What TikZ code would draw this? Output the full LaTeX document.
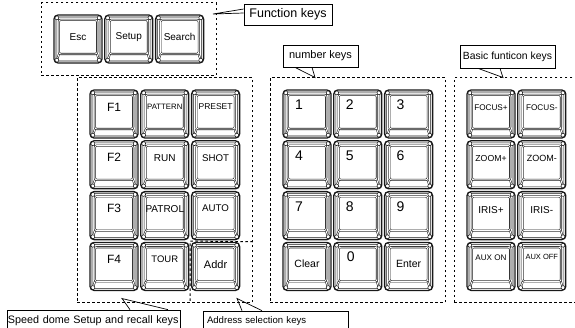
\documentclass[tikz,border=0pt]{standalone}
\usepackage{fontspec}
\setmainfont{Liberation Sans}
\usetikzlibrary{positioning,fit}

\tikzset{
  keytext/.style={font=\fontsize{#1}{#1}\selectfont},
  keycap/.style={draw=black!90, line width=1.3pt, rounded corners=4pt, fill=white,
    minimum width=48pt, minimum height=48pt, inner sep=0pt,
    path picture={
      \coordinate (ksw) at (path picture bounding box.south west);
      \coordinate (kse) at (path picture bounding box.south east);
      \coordinate (knw) at (path picture bounding box.north west);
      \coordinate (kne) at (path picture bounding box.north east);
      \begin{scope}[black!90, line width=0.55pt]
        \draw[rounded corners=3pt] ([shift={(2pt,2pt)}]ksw) rectangle ([shift={(-2pt,-2pt)}]kne);
        \draw[sharp corners, double, double distance=0.9pt] ([shift={(3pt,3pt)}]ksw) -- ([shift={(5pt,9pt)}]ksw);
        \draw[sharp corners, double, double distance=0.9pt] ([shift={(-3pt,3pt)}]kse) -- ([shift={(-5pt,9pt)}]kse);
        \draw[sharp corners] ([shift={(3pt,-3pt)}]knw) -- ([shift={(5pt,-5pt)}]knw);
        \draw[sharp corners] ([shift={(-3pt,-3pt)}]kne) -- ([shift={(-5pt,-5pt)}]kne);
        \draw[rounded corners=2pt, line width=0.6pt, double, double distance=0.9pt]
          ([shift={(4.8pt,9pt)}]ksw) rectangle ([shift={(-4.8pt,-4.8pt)}]kne);
        \filldraw[fill=white] ([shift={(2.8pt,2.8pt)}]ksw) circle[radius=2pt];
        \filldraw[fill=white] ([shift={(-2.8pt,2.8pt)}]kse) circle[radius=2pt];
        \filldraw[fill=white] ([shift={(2.8pt,-2.8pt)}]knw) circle[radius=2pt];
        \filldraw[fill=white] ([shift={(-2.8pt,-2.8pt)}]kne) circle[radius=2pt];
      \end{scope}}},
  dashline/.style={line width=1pt, dash pattern=on 2.5pt off 2.5pt},
  group/.style={dashline, draw, inner xsep=12pt, inner ysep=11.5pt},
  callout/.style={draw, line width=0.7pt, inner sep=0pt, fill=white},
  pointer/.style={line width=0.7pt}
}

\begin{document}
\begin{tikzpicture}[x=1pt, y=-1pt, node distance=1.5pt]
\useasboundingbox (0,0) rectangle (575,327);

% function keys
\node[keycap, label={[keytext=10, yshift=2pt]center:Esc}] (esc) at (78,39) {};
\node[keycap, right=of esc, label={[keytext=10, yshift=2pt]center:Setup}] (setup) {};
\node[keycap, right=of setup, label={[keytext=10, yshift=2pt]center:Search}] (search) {};
\node[group, fit=(esc)(search)] (fnkeys) {};

% speed dome keys
\node[keycap, label={[keytext=12, yshift=7pt]center:F1}] (f1) at (114,114) {};
\node[keycap, right=of f1, label={[keytext=7.8, yshift=7pt]center:PATTERN}] (pattern) {};
\node[keycap, right=of pattern, label={[keytext=8.5, yshift=7pt]center:PRESET}] (preset) {};
\node[keycap, below=of f1, label={[keytext=12, yshift=7pt]center:F2}] (f2) {};
\node[keycap, right=of f2, label={[keytext=10, yshift=7pt]center:RUN}] (run) {};
\node[keycap, right=of run, label={[keytext=9.7, yshift=7pt]center:SHOT}] (shot) {};
\node[keycap, below=of f2, label={[keytext=12, yshift=7pt]center:F3}] (f3) {};
\node[keycap, right=of f3, label={[keytext=10, yshift=7pt]center:PATROL}] (patrol) {};
\node[keycap, right=of patrol, label={[keytext=9.7, yshift=7pt]center:AUTO}] (auto) {};
\node[keycap, below=of f3, label={[keytext=12, yshift=7pt]center:F4}] (f4) {};
\node[keycap, right=of f4, label={[keytext=9.5, yshift=7pt]center:TOUR}] (tour) {};
\node[keycap, right=of tour, label={[keytext=11, yshift=1.5pt]center:Addr}] (addr) {};
\node[group, fit=(f1)(addr)] (speedkeys) {};
\draw[dashline] (speedkeys.east |- addr.north) -- ([shift={(-0.75pt,0.75pt)}]addr.north west)
  -- ([xshift=-0.75pt]addr.west |- speedkeys.south);

% number keys
\node[keycap, label={[keytext=14, xshift=-8pt, yshift=9pt]center:1}] (n1) at (307,114) {};
\node[keycap, right=of n1, label={[keytext=14, xshift=-8pt, yshift=9pt]center:2}] (n2) {};
\node[keycap, right=of n2, label={[keytext=14, xshift=-8pt, yshift=9pt]center:3}] (n3) {};
\node[keycap, below=of n1, label={[keytext=14, xshift=-8pt, yshift=9pt]center:4}] (n4) {};
\node[keycap, right=of n4, label={[keytext=14, xshift=-8pt, yshift=9pt]center:5}] (n5) {};
\node[keycap, right=of n5, label={[keytext=14, xshift=-8pt, yshift=9pt]center:6}] (n6) {};
\node[keycap, below=of n4, label={[keytext=14, xshift=-8pt, yshift=9pt]center:7}] (n7) {};
\node[keycap, right=of n7, label={[keytext=14, xshift=-8pt, yshift=9pt]center:8}] (n8) {};
\node[keycap, right=of n8, label={[keytext=14, xshift=-8pt, yshift=9pt]center:9}] (n9) {};
\node[keycap, below=of n7, label={[keytext=10.5, yshift=2.5pt]center:Clear}] (clear) {};
\node[keycap, right=of clear, label={[keytext=14, xshift=-7pt, yshift=9.5pt]center:0}] (n0) {};
\node[keycap, right=of n0, label={[keytext=10.5, yshift=2.5pt]center:Enter}] (enter) {};
\node[group, fit=(n1)(enter)] (numkeys) {};

% basic function keys
\node[keycap, label={[keytext=8.2, yshift=6pt]center:FOCUS+}] (focusin) at (491,114) {};
\node[keycap, right=of focusin, label={[keytext=8.2, yshift=6pt]center:FOCUS-}] (focusout) {};
\node[keycap, below=of focusin, label={[keytext=8.7, yshift=6pt]center:ZOOM+}] (zoomin) {};
\node[keycap, right=of zoomin, label={[keytext=9, yshift=6pt]center:ZOOM-}] (zoomout) {};
\node[keycap, below=of zoomin, label={[keytext=10, yshift=6pt]center:IRIS+}] (irisin) {};
\node[keycap, right=of irisin, label={[keytext=10, yshift=6pt]center:IRIS-}] (irisout) {};
\node[keycap, below=of irisin, label={[keytext=8.1, yshift=9pt]center:AUX ON}] (auxon) {};
\node[keycap, right=of auxon, label={[keytext=7.5, yshift=9pt]center:AUX OFF}] (auxoff) {};
\node[group, fit=(focusin)(auxoff)] (basickeys) {};

% callouts
\node[callout, keytext=12.5, minimum width=88pt, minimum height=21pt] (fnnote) at (288,14.5) {Function keys};
\coordinate (fntip) at (213,14);
\draw[pointer] ([yshift=5.5pt]fnnote.west) -- (fntip) -- ([yshift=1.5pt]fnnote.west);

\node[callout, keytext=11, minimum width=75pt, minimum height=22pt] (numnote) at (320.5,56) {number keys};
\coordinate (numtip) at (315,77.5);
\draw[pointer] ([xshift=-25.5pt]numnote.south) -- (numtip) -- ([xshift=-8.5pt]numnote.south);

\node[callout, keytext=10.4, minimum width=95pt, minimum height=23pt] (basicnote) at (507.5,56.5) {Basic funticon keys};
\coordinate (basictip) at (503,77.5);
\draw[pointer] ([xshift=-29.5pt]basicnote.south) -- (basictip) -- ([xshift=-7.5pt]basicnote.south);

\node[callout, keytext=10.8, minimum width=173pt, minimum height=22pt, text width=171pt] (speednote) at (93.5,321) {Speed dome Setup and recall keys};
\coordinate (speedtip) at (122,298.5);
\draw[pointer] ([xshift=36.5pt]speednote.north) -- (speedtip) -- ([xshift=74.5pt]speednote.north);

\node[callout, keytext=9.6, minimum width=145pt, minimum height=21pt, text width=137pt] (addrnote) at (275.5,321.5) {Address selection keys};
\coordinate (addrtip) at (237,298.5);
\draw[pointer] ([xshift=-33.5pt]addrnote.north) -- (addrtip) -- ([xshift=-13.5pt]addrnote.north);
\end{tikzpicture}
\end{document}
